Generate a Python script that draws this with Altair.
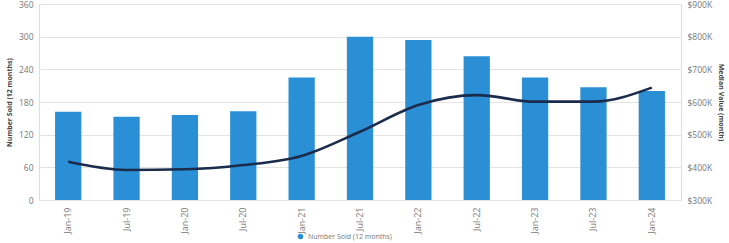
import altair as alt
import pandas as pd

periods = ["Jan-19", "Jul-19", "Jan-20", "Jul-20", "Jan-21", "Jul-21",
           "Jan-22", "Jul-22", "Jan-23", "Jul-23", "Jan-24"]
number_sold = [162, 153, 156, 163, 225, 300, 294, 264, 225, 207, 200]
median_value = [417, 392, 394, 407, 435, 509, 591, 621, 601, 601, 644]

df = pd.DataFrame({
    "period": periods,
    "sold": number_sold,
    "value": median_value,
    "s1": ["Number Sold (12 months)"] * len(periods),
})

FONT = "Open Sans"
LABEL_C = "#777777"

x = alt.X("period:N", sort=periods, title=None,
          scale=alt.Scale(paddingInner=0.55, paddingOuter=0.275),
          axis=alt.Axis(labelAngle=-90, labelColor=LABEL_C, labelFontSize=9,
                        labelFont=FONT, ticks=False, domain=False, labelPadding=7))

bars = alt.Chart(df).mark_bar(color="#2b8fd6").encode(
    x=x,
    y=alt.Y("sold:Q", title="Number Sold (12 months)",
            scale=alt.Scale(domain=[0, 360]),
            axis=alt.Axis(values=[0, 60, 120, 180, 240, 300, 360], grid=True,
                          gridColor="#e3e3e3", ticks=False, domain=False,
                          labelColor=LABEL_C, labelFontSize=8.5, labelFont=FONT,
                          labelPadding=6, titleFontSize=7, titleFont=FONT,
                          titleColor="#444444", titleFontWeight="bold",
                          titlePadding=6)),
    color=alt.Color("s1:N", scale=alt.Scale(range=["#2b8fd6"]),
                    legend=alt.Legend(title=None, orient="none", legendX=258,
                                      legendY=229, symbolType="circle",
                                      symbolSize=30, labelFontSize=7,
                                      labelColor=LABEL_C, labelFont=FONT)),
)

line = alt.Chart(df).mark_line(color="#1a2b4c", strokeWidth=2.6,
                               interpolate="monotone").encode(
    x=x,
    y=alt.Y("value:Q", title="Median Value (month)",
            scale=alt.Scale(domain=[300, 900]),
            axis=alt.Axis(orient="right", values=[300, 400, 500, 600, 700, 800, 900],
                          labelExpr="'$' + datum.value + 'K'", grid=False,
                          ticks=False, domain=False, labelColor=LABEL_C,
                          labelFontSize=8.5, labelFont=FONT, labelPadding=6,
                          titleFontSize=7, titleFont=FONT, titleColor="#444444",
                          titleFontWeight="bold", titlePadding=6)),
)

chart = alt.layer(bars, line).resolve_scale(y="independent").properties(
    width=642, height=196,
    autosize=alt.AutoSizeParams(type="none"),
    padding={"left": 39, "top": 4, "right": 48, "bottom": 43},
).configure_view(stroke=None).configure(background="white")

chart.save("out.html", embed_options={"renderer": "svg", "actions": False})
